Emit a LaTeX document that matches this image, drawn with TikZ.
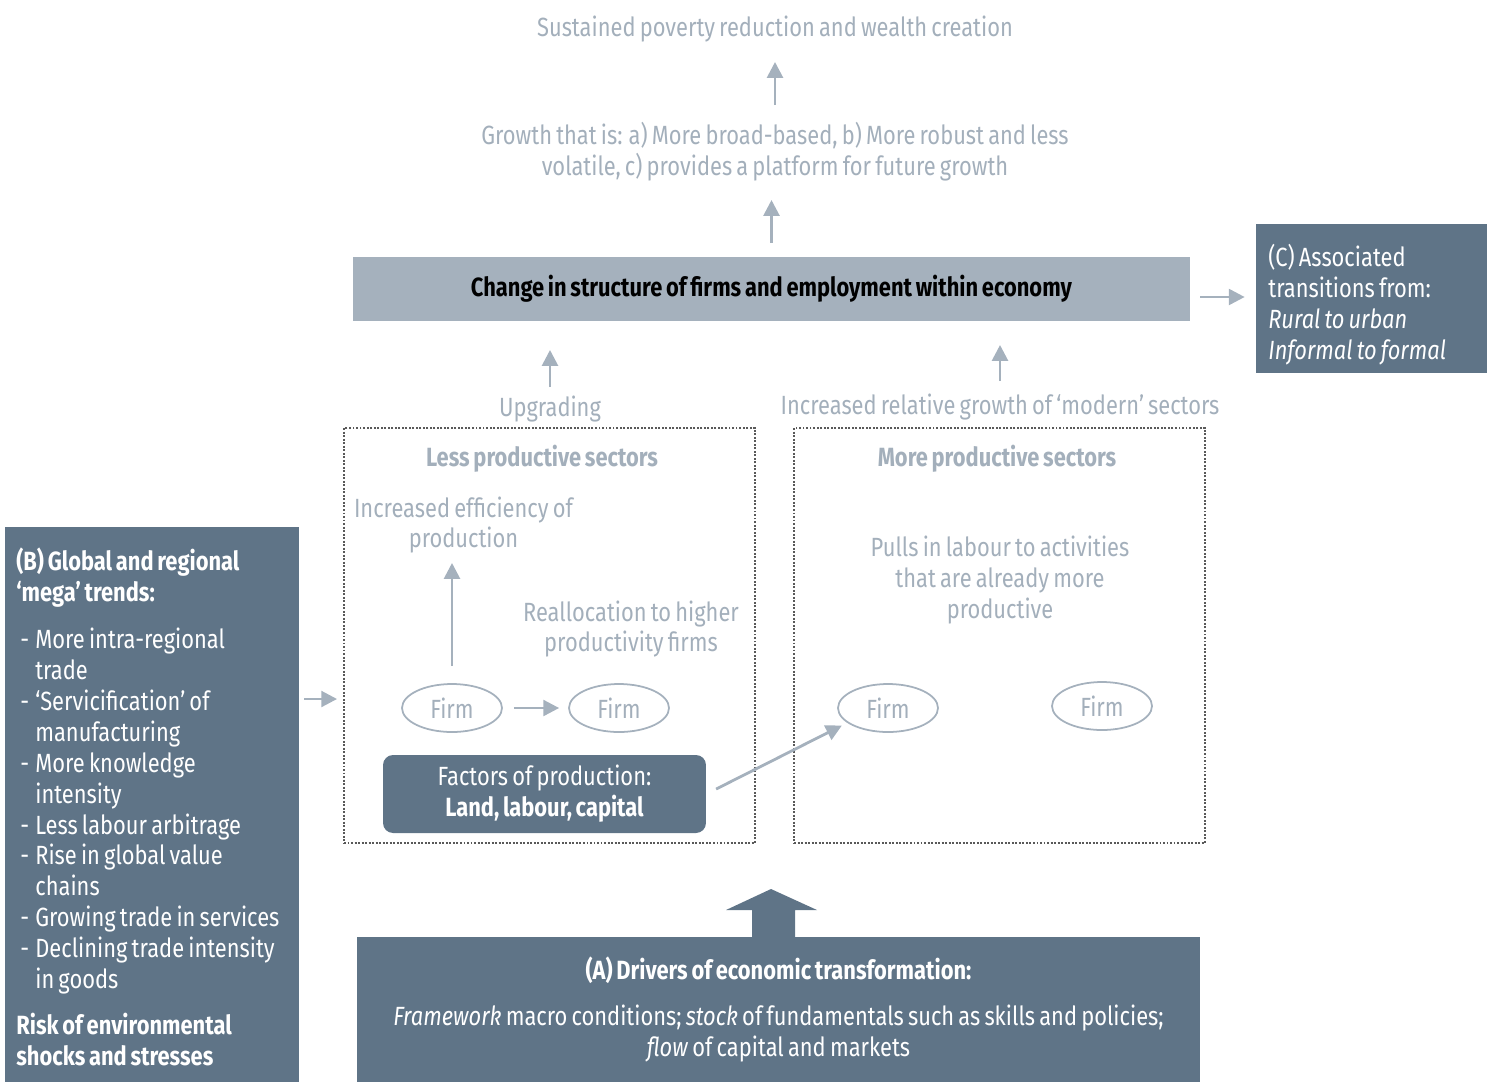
\documentclass[tikz,border=0pt]{standalone}
\usepackage{fontspec}
\setmainfont{Fira Sans}[FakeStretch=0.83, WordSpace=0.72, BoldFeatures={FakeStretch=0.83}]
\usetikzlibrary{arrows.meta,positioning,shapes.geometric}
\definecolor{slate}{HTML}{5F7487}
\definecolor{mist}{HTML}{A5B1BD}
\definecolor{paletext}{HTML}{A3AFBB}
\newcommand\bdash{\makebox[0.38cm][l]{\hspace{0.08cm}-}}
\newcommand\bind{\hspace*{0.38cm}}

\begin{document}
\begin{tikzpicture}[x=0.02cm,y=-0.02cm,
    every node/.style={font=\fontsize{15}{17.6}\selectfont, align=center, inner sep=0pt},
    pale/.style={text=paletext},
    arr/.style={draw=mist, line width=1.6pt, -{Triangle[length=9pt,width=9pt]}},
    darkbox/.style={fill=slate, text=white},
    boxtext/.style={anchor=west, text=white, align=left},
    firm/.style={ellipse, draw=mist, line width=1pt, text=paletext,
        minimum width=2cm, minimum height=0.96cm},
    sector/.style={draw=black!65, dash pattern=on 1.1pt off 0.9pt, line width=1.1pt,
        minimum width=8.22cm, minimum height=8.3cm}]
    \useasboundingbox (0,0) rectangle (1493,1082);

    % Top outcomes
    \node[pale] (poverty) at (775,29) {Sustained poverty reduction and wealth creation};
    \node[pale] (growth) at (775,152) {Growth that is: a) More broad-based, b) More robust and less\\
        volatile, c) provides a platform for future growth};
    \node[fill=mist, minimum width=16.74cm, minimum height=1.28cm] (change) at (771.5,289)
        {\textbf{Change in structure of firms and employment within economy}};
    \node[darkbox, minimum width=4.62cm, minimum height=2.98cm] (assoc) at (1371.5,298.5) {};
    \node[boxtext] (assoctext) at (1268,305)
        {(C) Associated\\transitions from:\\\textit{Rural to urban}\\\textit{Informal to formal}};

    \draw[arr] (growth |- 0,105) -- (growth |- 0,62);
    \draw[arr] (change |- 0,243) -- (change |- 0,200);
    \draw[arr, shorten <=0.2cm, shorten >=0.22cm] (change.east |- 0,297) -- (assoc.west |- 0,297);

    % Sectors
    \node[sector] (lessbox) at (549.5,635.5) {};
    \node[sector] (morebox) at (999.5,635.5) {};
    \node[pale] (upg) at (550,409) {Upgrading};
    \node[pale] (modern) at (1000,407) {Increased relative growth of ‘modern’ sectors};
    \draw[arr] (upg |- 0,387) -- (upg |- 0,350);
    \draw[arr] (modern |- 0,381) -- (modern |- 0,345);

    \node[pale] (lesstitle) at (542,459) {\textbf{Less productive sectors}};
    \node[pale] (moretitle) at (997,459) {\textbf{More productive sectors}};
    \node[pale] (effic) at (463.5,525) {Increased efficiency of\\production};
    \node[pale] (realloc) at (631,629) {Reallocation to higher\\productivity firms};
    \node[pale] (pulls) at (1000,580) {Pulls in labour to activities\\that are already more\\productive};

    \node[firm] (firma) at (452,708) {Firm};
    \node[firm] (firmb) at (619,708) {Firm};
    \node[firm] (firmc) at (888,708) {Firm};
    \node[firm] (firmd) at (1102,706) {Firm};
    \node[darkbox, rounded corners=0.2cm, minimum width=6.46cm, minimum height=1.56cm]
        (factors) at (544.5,794) {Factors of production:\\\textbf{Land, labour, capital}};

    \draw[arr, shorten <=0.34cm] (firma.north) -- (firma.north |- 0,563);
    \draw[arr, shorten <=0.22cm, shorten >=0.18cm] (firma.east) -- (firmb.west);
    \draw[arr, shorten <=0.22cm, shorten >=0.12cm] (factors.east) -- (firmc.200);

    % Mega trends
    \node[darkbox, minimum width=5.88cm, minimum height=11.1cm] (trends) at (152,804.5) {};
    \node[boxtext] (trendtext) at (16,807) {%
        \textbf{(B) Global and regional}\\
        \textbf{‘mega’ trends:}\\[9pt]
        \bdash More intra-regional\\
        \bind trade\\
        \bdash ‘Servicification’ of\\
        \bind manufacturing\\
        \bdash More knowledge\\
        \bind intensity\\
        \bdash Less labour arbitrage\\
        \bdash Rise in global value\\
        \bind chains\\
        \bdash Growing trade in services\\
        \bdash Declining trade intensity\\
        \bind in goods\\[8.5pt]
        \textbf{Risk of environmental}\\
        \textbf{shocks and stresses}};
    \draw[arr, shorten <=0.1cm, shorten >=0.12cm] (trends.east |- 0,699) -- (lessbox.west |- 0,699);

    % Drivers
    \node[darkbox, minimum width=16.86cm, minimum height=2.9cm] (drivers) at (778.5,1009.5)
        {\textbf{(A) Drivers of economic transformation:}\\[9pt]
        \textit{Framework} macro conditions; \textit{stock} of fundamentals such as skills and policies;\\
        \textit{flow} of capital and markets};
    \fill[slate] (752,937) -- (752,910) -- (726,910) -- (771,889) -- (817,910)
        -- (795,910) -- (795,937) -- cycle;
\end{tikzpicture}
\end{document}
